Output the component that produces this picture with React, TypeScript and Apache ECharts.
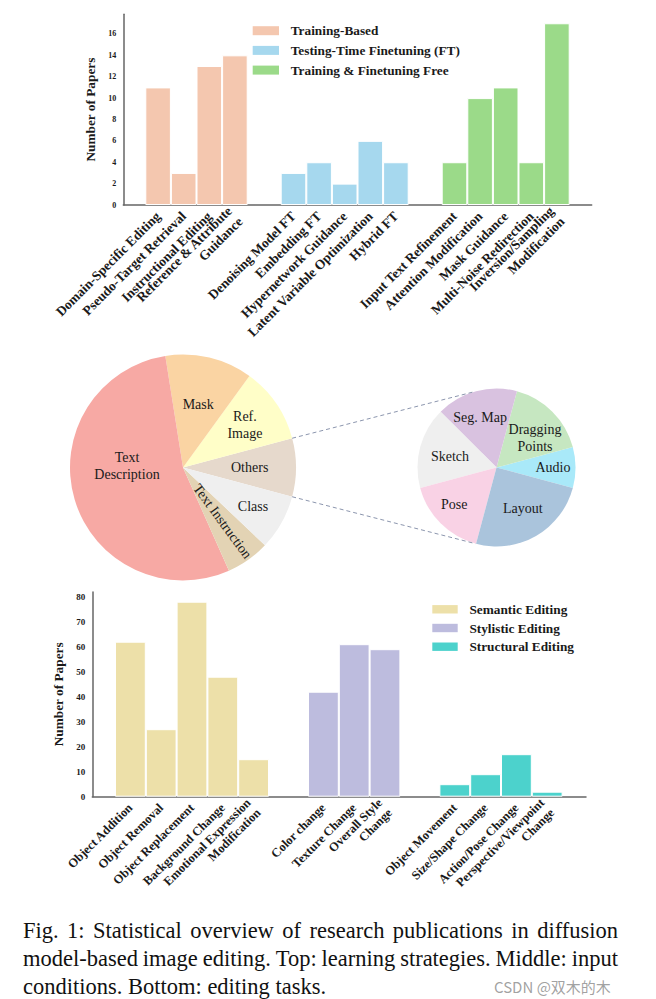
import React, { useEffect, useRef } from "react";
import * as echarts from "echarts";

// ---------------- DATA ----------------
const trainingCats = ["Domain-Specific Editing", "Pseudo-Target Retrieval", "Instructional Editing", "Reference & Attribute\nGuidance"];
const trainingVals = [11, 3, 13, 14];
const ftCats = ["Denoising Model FT", "Embedding FT", "Hypernetwork Guidance", "Latent Variable Optimization", "Hybrid FT"];
const ftVals = [3, 4, 2, 6, 4];
const freeCats = ["Input Text Refinement", "Attention Modification", "Mask Guidance", "Multi-Noise Redirection", "Inversion/Sampling\nModification"];
const freeVals = [4, 10, 11, 4, 17];
const topSeriesNames = ["Training-Based", "Testing-Time Finetuning (FT)", "Training & Finetuning Free"];

const mainPieNames = ["Others", "Ref.\nImage", "Mask", "Text\nDescription", "Text Instruction", "Class"];
const mainPieVals = [20, 26, 30, 130, 15, 19];
const subPieNames = ["Audio", "Dragging\nPoints", "Seg. Map", "Sketch", "Pose", "Layout"];
const subPieVals = [1, 2, 2, 2, 2, 3];

const semCats = ["Object Addition", "Object Removal", "Object Replacement", "Background Change", "Emotional Expression\nModification"];
const semVals = [62, 27, 78, 48, 15];
const styCats = ["Color change", "Texture Change", "Overall Style\nChange"];
const styVals = [42, 61, 59];
const strCats = ["Object Movement", "Size/Shape Change", "Action/Pose Change", "Perspective/Viewpoint\nChange"];
const strVals = [5, 9, 17, 2];
const bottomSeriesNames = ["Semantic Editing", "Stylistic Editing", "Structural Editing"];

const yAxisTitle = "Number of Papers";
const captionLines = [
  "Fig. 1: Statistical overview of research publications in diffusion",
  "model-based image editing. Top: learning strategies. Middle: input",
  "conditions. Bottom: editing tasks.",
];
const watermark = "CSDN @双木的木";

// ---------------- STYLES / LAYOUT ----------------
const FONT = "'Liberation Serif', 'Times New Roman', Times, serif";
const topColors = ["#F4C7AF", "#A6D8EE", "#9BDA89"];
const bottomColors = ["#EDE0A9", "#BDBCDE", "#4CD2CC"];
const mainPieColors = ["#E6D9CC", "#FFFEC8", "#FAD4A3", "#F7A9A4", "#E3D3B4", "#EFEFEF"];
const subPieColors = ["#A9E9F9", "#C6E7C1", "#D9C2E0", "#EFEFEF", "#F9D2E5", "#AAC4DC"];
// label placement per slice: radius fraction, angle shift (deg), rotate radially
const mainLabelPlace = [
  { frac: 0.59, dAng: 0, radial: false },
  { frac: 0.665, dAng: 0, radial: false },
  { frac: 0.577, dAng: 0, radial: false },
  { frac: 0.496, dAng: -18, radial: false },
  { frac: 0.59, dAng: 1, radial: true },
  { frac: 0.71, dAng: 0, radial: false },
];
const subLabelPlace = [
  { frac: 0.715, dAng: 0, radial: false },
  { frac: 0.614, dAng: -7.5, radial: false },
  { frac: 0.672, dAng: 3, radial: false },
  { frac: 0.604, dAng: 2, radial: false },
  { frac: 0.709, dAng: -4, radial: false },
  { frac: 0.613, dAng: 3, radial: false },
];

const TOP = { axisLeft: 123.3, axisRight: 591.7, axisY: 205, interval: 2, pxPerUnit: 10.69, start: 145.3, barW: 25.6, gap: 33, labelSize: 13.5, tickSize: 8, nameGap: 17.5, labelMargin: 9 };
const BOT = { axisLeft: 92.3, axisRight: 586, axisY: 796.7, interval: 10, pxPerUnit: 2.5, start: 115, barW: 30.8, gap: 39, labelSize: 12.5, tickSize: 9, nameGap: 16.5, labelMargin: 9 };
const PIE = { cx: 183, cy: 467.5, r: 113 };
const SUB = { cx: 496.5, cy: 467.5, r: 79, topAngle: 107, bottomAngle: -105.5 };
const CAP = { left: 23, right: 618, firstY: 930, lineH: 28, fontSize: 22.5 };
const AXIS_COLOR = "#666";
const TEXT_COLOR = "#1a1a1a";
const RAD = Math.PI / 180;

function buildBars(L: any, groups: any[], legendOpt: any, out: any) {
  const all: number[] = [];
  groups.forEach((g) => all.push(...g.vals));
  const max = Math.max(...all) * 1.05;
  const height = max * L.pxPerUnit;
  const top = L.axisY - height;
  let gi = out.grid.length;
  out.grid.push({ left: L.axisLeft, top, width: L.axisRight - L.axisLeft, height });
  out.xAxis.push({
    type: "value", gridIndex: gi, min: 0, max: 1,
    axisLine: { show: true, onZero: false, lineStyle: { color: AXIS_COLOR, width: 1.5 } },
    axisTick: { show: false }, axisLabel: { show: false }, splitLine: { show: false },
  });
  out.yAxis.push({
    type: "value", gridIndex: gi, min: 0, max, interval: L.interval,
    axisLine: { show: true, lineStyle: { color: AXIS_COLOR, width: 1.5 } },
    axisTick: { show: false }, splitLine: { show: false },
    axisLabel: { showMaxLabel: false, fontFamily: FONT, fontWeight: "bold", fontSize: L.tickSize, color: TEXT_COLOR, margin: 7 },
    name: yAxisTitle, nameLocation: "middle", nameGap: L.nameGap,
    nameTextStyle: { fontFamily: FONT, fontWeight: "bold", fontSize: 13.3, color: TEXT_COLOR },
  });
  let x = L.start;
  groups.forEach((g) => {
    const w = g.cats.length * L.barW;
    gi = out.grid.length;
    out.grid.push({ left: x, top, width: w, height });
    out.xAxis.push({
      type: "category", gridIndex: gi, data: g.cats,
      axisLine: { show: false }, axisTick: { show: false }, splitLine: { show: false },
      axisLabel: { interval: 0, rotate: 45, margin: L.labelMargin, fontFamily: FONT, fontWeight: "bold", fontSize: L.labelSize, lineHeight: L.labelSize + 1.5, color: TEXT_COLOR },
    });
    out.yAxis.push({ type: "value", gridIndex: gi, min: 0, max, show: false, splitLine: { show: false } });
    out.series.push({
      type: "bar", name: g.name, xAxisIndex: gi, yAxisIndex: gi, data: g.vals,
      barCategoryGap: "0%", barGap: "0%", silent: true,
      itemStyle: { color: g.color, borderColor: "#ffffff", borderWidth: 1 },
    });
    x += w + L.gap;
  });
  out.legend.push(legendOpt);
}

function legendFor(names: string[], left: number, top: number, w: number, h: number, gap: number) {
  return {
    data: names, orient: "vertical", left, top, padding: 0, itemWidth: w, itemHeight: h, itemGap: gap,
    icon: "rect", selectedMode: false,
    itemStyle: { borderWidth: 0 },
    textStyle: { fontFamily: FONT, fontWeight: "bold", fontSize: 13.3, lineHeight: 13, color: TEXT_COLOR, padding: [0, 0, 0, 6.7] },
  };
}

function pieStart(vals: number[]) {
  const total = vals.reduce((a, b) => a + b, 0);
  return -(vals[0] / total) * 180;
}

function pieSeries(P: any, names: string[], vals: number[], colors: string[]) {
  return {
    type: "pie", center: [P.cx, P.cy], radius: [0, P.r], startAngle: pieStart(vals), clockwise: false,
    silent: true, avoidLabelOverlap: false, labelLine: { show: false }, emphasis: { disabled: true },
    label: { show: false },
    data: names.map((n, i) => ({ name: n, value: vals[i], itemStyle: { color: colors[i] } })),
  };
}

// labels placed on each slice's mid-angle (computed from the data)
function pieLabels(P: any, names: string[], vals: number[], place: any[]) {
  const total = vals.reduce((a, b) => a + b, 0);
  let acc = pieStart(vals);
  return names.map((n, i) => {
    const span = (vals[i] / total) * 360;
    const mid = acc + span / 2 + place[i].dAng;
    acc += span;
    const rr = P.r * place[i].frac;
    return {
      type: "text", silent: true, z: 15,
      x: P.cx + rr * Math.cos(mid * RAD),
      y: P.cy - rr * Math.sin(mid * RAD),
      rotation: place[i].radial ? mid * RAD : 0,
      style: { text: n, fontSize: 14, lineHeight: 16.5, fontFamily: FONT, fill: TEXT_COLOR, textAlign: "center", textVerticalAlign: "middle", align: "center", verticalAlign: "middle" },
    };
  });
}

function captionElements() {
  const els: any[] = [];
  const canvas = document.createElement("canvas");
  const ctx = canvas.getContext("2d")!;
  ctx.font = `${CAP.fontSize}px "Liberation Serif"`;
  const spaceW = ctx.measureText(" ").width;
  captionLines.forEach((line, li) => {
    const words = line.split(" ");
    const widths = words.map((w) => ctx.measureText(w).width);
    const sum = widths.reduce((a, b) => a + b, 0);
    const justify = li < captionLines.length - 1 && words.length > 1;
    const gapW = justify ? (CAP.right - CAP.left - sum) / (words.length - 1) : spaceW;
    let x = CAP.left;
    const y = CAP.firstY + li * CAP.lineH;
    words.forEach((w, wi) => {
      els.push({
        type: "text", x, y, silent: true,
        style: { text: w, fontSize: CAP.fontSize, fontFamily: "'Liberation Serif', serif", fill: "#111", textAlign: "left", textVerticalAlign: "middle", align: "left", verticalAlign: "middle" },
      });
      x += widths[wi] + gapW;
    });
  });
  return els;
}

function buildOption() {
  const out: any = { grid: [], xAxis: [], yAxis: [], series: [], legend: [] };
  buildBars(
    TOP,
    [
      { cats: trainingCats, vals: trainingVals, name: topSeriesNames[0], color: topColors[0] },
      { cats: ftCats, vals: ftVals, name: topSeriesNames[1], color: topColors[1] },
      { cats: freeCats, vals: freeVals, name: topSeriesNames[2], color: topColors[2] },
    ],
    legendFor(topSeriesNames, 252.7, 24.2, 26.3, 9, 6.7),
    out
  );
  buildBars(
    BOT,
    [
      { cats: semCats, vals: semVals, name: bottomSeriesNames[0], color: bottomColors[0] },
      { cats: styCats, vals: styVals, name: bottomSeriesNames[1], color: bottomColors[1] },
      { cats: strCats, vals: strVals, name: bottomSeriesNames[2], color: bottomColors[2] },
    ],
    legendFor(bottomSeriesNames, 432.3, 602.8, 25.4, 8.4, 5.7),
    out
  );
  out.series.push(pieSeries(PIE, mainPieNames, mainPieVals, mainPieColors));
  out.series.push(pieSeries(SUB, subPieNames, subPieVals, subPieColors));

  // connector lines between the "Others" slice and the sub pie
  const mainTotal = mainPieVals.reduce((a, b) => a + b, 0);
  const half = (mainPieVals[0] / mainTotal) * Math.PI;
  const lineStyle = { stroke: "#8C96AE", lineWidth: 1, lineDash: [4, 3] };
  const graphics: any[] = [
    {
      type: "line", silent: true, z: 10,
      shape: { x1: PIE.cx + PIE.r * Math.cos(half), y1: PIE.cy - PIE.r * Math.sin(half), x2: SUB.cx + SUB.r * Math.cos(SUB.topAngle * RAD), y2: SUB.cy - SUB.r * Math.sin(SUB.topAngle * RAD) },
      style: lineStyle,
    },
    {
      type: "line", silent: true, z: 10,
      shape: { x1: PIE.cx + PIE.r * Math.cos(-half), y1: PIE.cy - PIE.r * Math.sin(-half), x2: SUB.cx + SUB.r * Math.cos(SUB.bottomAngle * RAD), y2: SUB.cy - SUB.r * Math.sin(SUB.bottomAngle * RAD) },
      style: lineStyle,
    },
    ...pieLabels(PIE, mainPieNames, mainPieVals, mainLabelPlace),
    ...pieLabels(SUB, subPieNames, subPieVals, subLabelPlace),
    ...captionElements(),
    {
      type: "text", x: 494, y: 986, silent: true, z: 20,
      style: { text: watermark, fontSize: 15, fontFamily: "'Noto Sans CJK SC', sans-serif", fill: "rgba(120,120,120,0.7)", textAlign: "left", textVerticalAlign: "middle", align: "left", verticalAlign: "middle" },
    },
  ];

  return {
    animation: false,
    backgroundColor: "#ffffff",
    grid: out.grid,
    xAxis: out.xAxis,
    yAxis: out.yAxis,
    legend: out.legend,
    series: out.series,
    graphic: { elements: graphics },
  };
}

export default function App() {
  const ref = useRef<HTMLDivElement>(null);
  useEffect(() => {
    if (!ref.current) return;
    const chart = echarts.init(ref.current, null, { renderer: "svg" });
    chart.setOption(buildOption() as any);
    return () => chart.dispose();
  }, []);
  return <div ref={ref} style={{ position: "absolute", left: 0, top: 0, width: 656, height: 999, background: "#fff" }} />;
}
